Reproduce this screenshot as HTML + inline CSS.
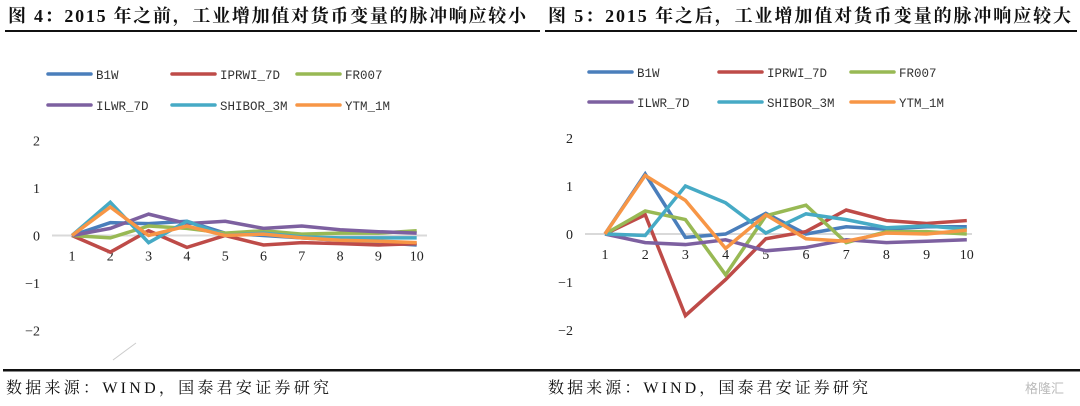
<!DOCTYPE html>
<html><head><meta charset="utf-8"><style>
body{margin:0;background:#fff;width:1080px;height:406px;overflow:hidden}
svg{display:block}
.t{font-family:"Liberation Serif","Noto Serif CJK SC",serif;font-weight:bold;font-size:18px;fill:#111}
.f{font-family:"Liberation Serif","Noto Serif CJK SC",serif;font-size:16px;fill:#111}
.ax{font-family:"Liberation Serif",serif;font-size:14px;fill:#222}
.lg{font-family:"Liberation Mono",monospace;font-size:12.5px;fill:#333}
</style></head><body>
<svg id="s" width="1080" height="406">
<text class="t" x="8" y="22" textLength="518" lengthAdjust="spacing">图 4：2015 年之前，工业增加值对货币变量的脉冲响应较小</text>
<text class="t" x="548" y="22" textLength="523" lengthAdjust="spacing">图 5：2015 年之后，工业增加值对货币变量的脉冲响应较大</text>
<rect x="5" y="30" width="535" height="2" fill="#111"/>
<rect x="545" y="30" width="532" height="2" fill="#111"/>
<rect x="3" y="369" width="1077" height="2.5" fill="#111"/>
<text class="f" x="6" y="393" textLength="323" lengthAdjust="spacing">数据来源：WIND，国泰君安证券研究</text>
<text class="f" x="548" y="393" textLength="320" lengthAdjust="spacing">数据来源：WIND，国泰君安证券研究</text>
<text x="1025" y="393" font-family="Noto Sans CJK SC,sans-serif" font-size="13" fill="#bbb">格隆汇</text>
<line x1="113" y1="360" x2="136" y2="343" stroke="#ccc" stroke-width="1"/>
</svg>
<script>
const names=["B1W","IPRWI_7D","FR007","ILWR_7D","SHIBOR_3M","YTM_1M"];
const colors=["#4a7ebb","#be4b48","#98b954","#7d60a0","#46aac5","#f79646"];
const periods=[1,2,3,4,5,6,7,8,9,10];
const yTicks=[2,1,0,-1,-2];
const leftB1W=[0,0.27,0.25,0.3,0.05,0,-0.05,-0.1,-0.15,-0.2];
const leftIPRWI=[0,-0.35,0.1,-0.25,0,-0.2,-0.15,-0.17,-0.2,-0.17];
const leftFR007=[0,-0.05,0.2,0.15,0.05,0.1,0.03,0.05,0.05,0.1];
const leftILWR=[0,0.15,0.45,0.25,0.3,0.15,0.2,0.12,0.08,0.05];
const leftSHIBOR=[0,0.7,-0.15,0.3,0,0.05,-0.03,-0.05,-0.05,-0.05];
const leftYTM=[0,0.6,0,0.2,0,0.03,-0.05,-0.1,-0.12,-0.15];
const rightB1W=[0,1.25,-0.07,0,0.43,0,0.15,0.1,0.15,0.15];
const rightIPRWI=[0,0.4,-1.7,-0.95,-0.1,0.05,0.5,0.28,0.22,0.28];
const rightFR007=[0,0.48,0.3,-0.85,0.38,0.6,-0.18,0.05,0.05,0];
const rightILWR=[0,-0.18,-0.22,-0.12,-0.35,-0.28,-0.12,-0.18,-0.15,-0.12];
const rightSHIBOR=[0,-0.03,1.0,0.65,0.02,0.42,0.3,0.13,0.17,0.1];
const rightYTM=[0,1.22,0.7,-0.3,0.4,-0.1,-0.15,0.02,0,0.08];
const NS="http://www.w3.org/2000/svg";
const svg=document.getElementById('s');
function mk(t,a){const e=document.createElementNS(NS,t);for(const k in a)e.setAttribute(k,a[k]);svg.appendChild(e);return e;}
function chart(side,cfg,series){
  const xS=p=>cfg.x1+(p-1)*cfg.dx;
  const yS=v=>cfg.y0-v*cfg.dy;
  let e=mk('line',{x1:cfg.zl0,x2:cfg.zl1,y1:yS(0),y2:yS(0),stroke:'#d9d9d9','stroke-width':2});
  
  
  yTicks.forEach(t=>{const tx=mk('text',{class:'ax',x:cfg.yl,y:yS(t)+5,'text-anchor':'end'});tx.textContent=t<0?'\u2212'+(-t):t;
    
    });
  periods.forEach(p=>{const tx=mk('text',{class:'ax',x:xS(p),y:yS(0)+25,'text-anchor':'middle'});tx.textContent=p;
    
    });
  series.forEach((d,i)=>{
    const pl=mk('polyline',{points:d.map((v,j)=>xS(periods[j])+','+yS(v)).join(' '),fill:'none',stroke:colors[i],'stroke-width':3.5,'stroke-linejoin':'miter'});
    
    
    const r=Math.floor(i/3),c=i%3;
    const lx=cfg.lx[c],ly=cfg.ly[r];
    const ll=mk('line',{x1:lx,x2:lx+43,y1:ly,y2:ly,stroke:colors[i],'stroke-width':3.5,'stroke-linecap':'round'});
    
    
    const lt=mk('text',{class:'lg',x:lx+48,y:ly+5});lt.textContent=names[i];
    
    
  });
}
chart('left',{x1:72,dx:38.3,y0:235.5,dy:47.5,zl0:52,zl1:427,yl:40,lx:[48,172,297],ly:[74,105]},[leftB1W,leftIPRWI,leftFR007,leftILWR,leftSHIBOR,leftYTM]);
chart('right',{x1:605,dx:40.2,y0:234,dy:48,zl0:585,zl1:972,yl:573,lx:[589,719,851],ly:[72,102]},[rightB1W,rightIPRWI,rightFR007,rightILWR,rightSHIBOR,rightYTM]);
</script>
</body></html>
